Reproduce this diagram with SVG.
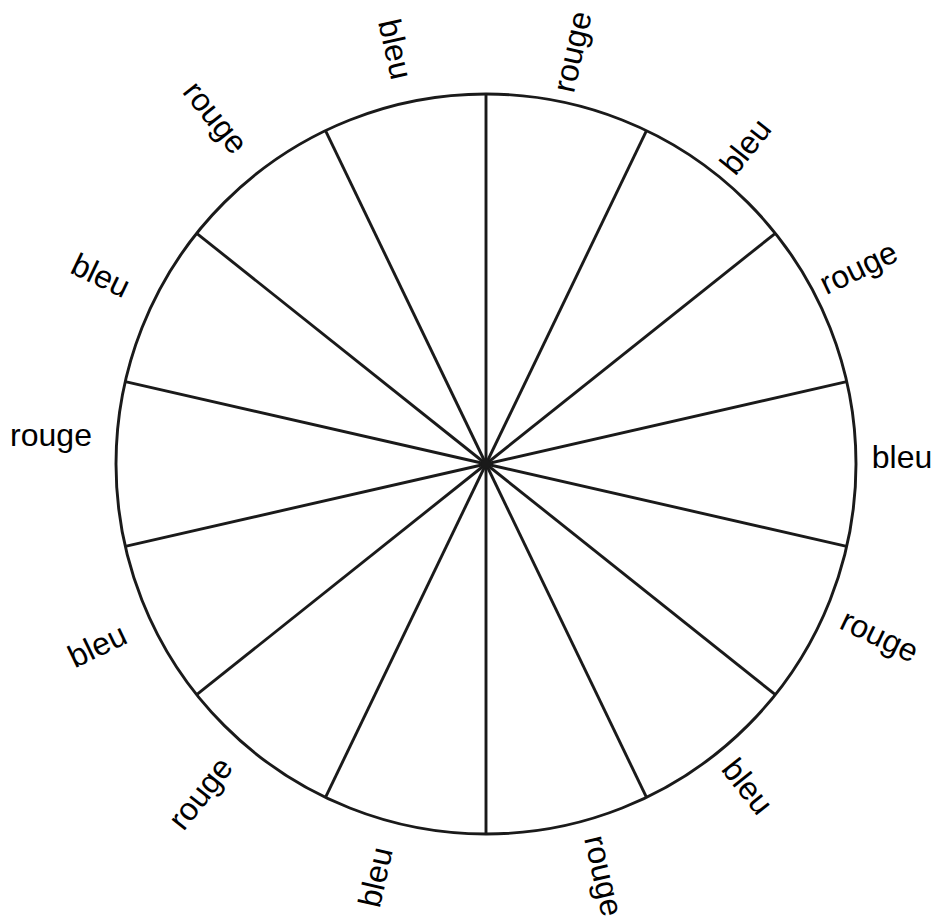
<svg xmlns="http://www.w3.org/2000/svg" width="937" height="920" viewBox="0 0 937 920">
<style>
.ln{stroke:#1a1a1a;stroke-width:2.9;fill:none;stroke-linecap:butt}
.lb{font-family:"Liberation Sans",Arial,sans-serif;font-size:32px;fill:#000;text-anchor:middle}
</style>
<rect width="937" height="920" fill="#fff"/>
<g id="connectors">
<circle class="ln" cx="486" cy="464" r="370"/>
<line class="ln" x1="486" y1="464" x2="486" y2="94"/>
<line class="ln" x1="486" y1="464" x2="646.5" y2="130.6"/>
<line class="ln" x1="486" y1="464" x2="775.3" y2="233.3"/>
<line class="ln" x1="486" y1="464" x2="846.7" y2="381.7"/>
<line class="ln" x1="486" y1="464" x2="846.7" y2="546.3"/>
<line class="ln" x1="486" y1="464" x2="775.3" y2="694.7"/>
<line class="ln" x1="486" y1="464" x2="646.5" y2="797.4"/>
<line class="ln" x1="486" y1="464" x2="486" y2="834"/>
<line class="ln" x1="486" y1="464" x2="325.5" y2="797.4"/>
<line class="ln" x1="486" y1="464" x2="196.7" y2="694.7"/>
<line class="ln" x1="486" y1="464" x2="125.3" y2="546.3"/>
<line class="ln" x1="486" y1="464" x2="125.3" y2="381.7"/>
<line class="ln" x1="486" y1="464" x2="196.7" y2="233.3"/>
<line class="ln" x1="486" y1="464" x2="325.5" y2="130.6"/>
<circle cx="486" cy="464" r="5" fill="#1a1a1a"/>
</g>
<g id="label1" transform="translate(396,49) rotate(77.14)"><text class="lb" y="11.5">bleu</text></g>
<g id="label2" transform="translate(578,53) rotate(-77.14)"><text class="lb" y="5">rouge</text></g>
<g id="label3" transform="translate(745,146) rotate(-51.43)"><text class="lb" y="11.5">bleu</text></g>
<g id="label4" transform="translate(861,273) rotate(-25.71)"><text class="lb" y="5">rouge</text></g>
<g id="label5" transform="translate(902,456)"><text class="lb" y="11.5">bleu</text></g>
<g id="label6" transform="translate(877,641) rotate(25.71)"><text class="lb" y="5">rouge</text></g>
<g id="label7" transform="translate(748,786) rotate(51.43)"><text class="lb" y="11.5">bleu</text></g>
<g id="label8" transform="translate(598,877) rotate(77.14)"><text class="lb" y="5">rouge</text></g>
<g id="label9" transform="translate(375,877) rotate(-77.14)"><text class="lb" y="11.5">bleu</text></g>
<g id="label10" transform="translate(205,797) rotate(-51.43)"><text class="lb" y="5">rouge</text></g>
<g id="label11" transform="translate(97,645) rotate(-25.71)"><text class="lb" y="11.5">bleu</text></g>
<g id="label12" transform="translate(51,441)"><text class="lb" y="5">rouge</text></g>
<g id="label13" transform="translate(101,275) rotate(25.71)"><text class="lb" y="11.5">bleu</text></g>
<g id="label14" transform="translate(211,121) rotate(51.43)"><text class="lb" y="5">rouge</text></g>
</svg>
